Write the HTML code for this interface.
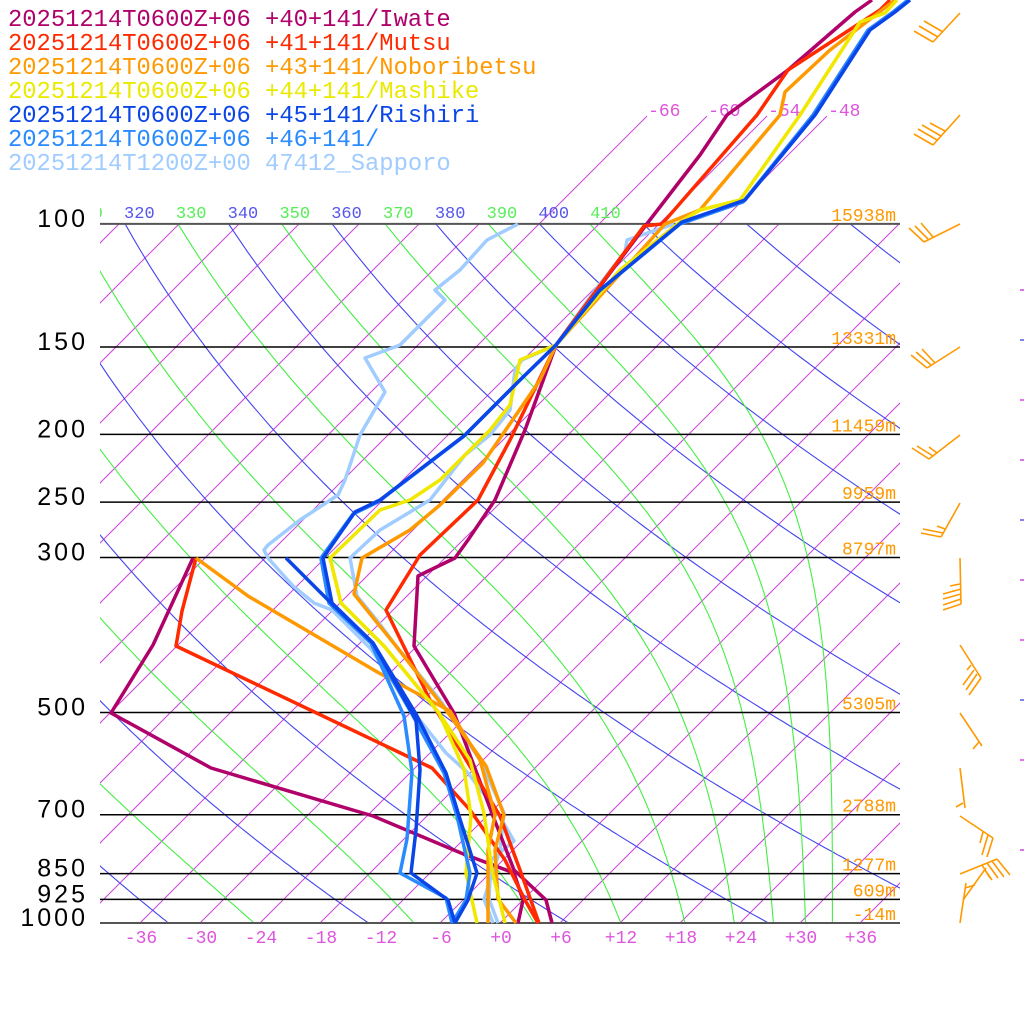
<!DOCTYPE html>
<html><head><meta charset="utf-8"><style>
html,body{margin:0;padding:0;background:#fff;width:1024px;height:1024px;overflow:hidden}
svg{display:block}
text{font-family:"Liberation Mono",monospace}
</style></head><body>
<svg id="s" width="1024" height="1024" viewBox="0 0 1024 1024" xmlns="http://www.w3.org/2000/svg">
<defs><clipPath id="c"><rect x="100" y="224" width="800" height="699"/></clipPath>
<clipPath id="cl"><rect x="100" y="190" width="800" height="40"/></clipPath></defs>
<g id="bg" clip-path="url(#c)"></g>
<g id="ext"></g>
<g id="lab"></g>
<g id="data" fill="none" stroke-linejoin="round" stroke-width="3.5"></g>
<g id="barbs" stroke="#ff9900" stroke-width="1.6" fill="none">
<line x1="960" y1="13" x2="933" y2="42"/><line x1="933" y1="42" x2="914" y2="31"/><line x1="938" y1="37" x2="919" y2="26"/><line x1="943" y1="32" x2="924" y2="21"/>
<line x1="960" y1="115" x2="933" y2="145"/><line x1="933" y1="145" x2="914" y2="134"/><line x1="937" y1="140" x2="918" y2="129"/><line x1="941" y1="136" x2="922" y2="125"/><line x1="945" y1="131" x2="930" y2="123"/>
<line x1="960" y1="224" x2="924" y2="242"/><line x1="924" y1="242" x2="909" y2="228"/><line x1="928" y1="239" x2="915" y2="226"/><line x1="933" y1="237" x2="921" y2="223"/>
<line x1="960" y1="347" x2="927" y2="368"/><line x1="927" y1="368" x2="911" y2="355"/><line x1="931" y1="365" x2="916" y2="352"/><line x1="935" y1="363" x2="922" y2="349"/>
<line x1="960" y1="435" x2="929" y2="459"/><line x1="929" y1="459" x2="912" y2="448"/><line x1="933" y1="456" x2="917" y2="446"/><line x1="937" y1="453" x2="929" y2="447"/>
<line x1="960" y1="503" x2="941" y2="537"/><line x1="941" y1="537" x2="921" y2="533"/><line x1="943" y1="533" x2="923" y2="529"/><line x1="945" y1="529" x2="937" y2="526"/>
<line x1="960" y1="558" x2="961" y2="604"/><line x1="961" y1="604" x2="943" y2="610"/><line x1="961" y1="599" x2="943" y2="605"/><line x1="961" y1="594" x2="943" y2="599"/><line x1="961" y1="589" x2="943" y2="594"/><line x1="960" y1="584" x2="950" y2="586"/>
<line x1="960" y1="645" x2="981" y2="678"/><line x1="981" y1="678" x2="969" y2="695"/><line x1="977" y1="674" x2="966" y2="690"/><line x1="974" y1="670" x2="963" y2="685"/><line x1="971" y1="665" x2="967" y2="670"/>
<line x1="960" y1="713" x2="982" y2="746"/><line x1="979" y1="742" x2="973" y2="749"/>
<line x1="960" y1="768" x2="965" y2="808"/><line x1="963" y1="803" x2="956" y2="807"/>
<line x1="960" y1="816" x2="993" y2="838"/><line x1="993" y1="838" x2="987" y2="857"/><line x1="988" y1="835" x2="982" y2="855"/><line x1="983" y1="832" x2="980" y2="843"/>
<line x1="960" y1="874" x2="997" y2="859"/><line x1="997" y1="859" x2="1010" y2="875"/><line x1="992" y1="861" x2="1004" y2="877"/><line x1="987" y1="863" x2="998" y2="878"/><line x1="982" y1="865" x2="990" y2="878"/>
<line x1="960" y1="923" x2="966" y2="883"/><line x1="965" y1="888" x2="975" y2="885"/><line x1="963" y1="900" x2="986" y2="868"/><line x1="985" y1="870" x2="992" y2="880"/>
</g>
</svg>
<script>
var NS="http://www.w3.org/2000/svg";
function el(par,tag,at,txt){var e=document.createElementNS(NS,tag);for(var k in at)e.setAttribute(k,at[k]);if(txt!=null)e.textContent=txt;document.getElementById(par).appendChild(e);return e;}
function Y(p){return 923-303.6*Math.log(1000/p);}
function X(T,p){return 500+10*T+(923-Y(p));}
for(var T=-120;T<=40;T+=6){var x1=X(T,1000);el("bg","line",{x1:x1,y1:923,x2:x1+699,y2:224,stroke:"#c844d8","stroke-width":1});}
[-66,-60,-54,-48].forEach(function(T){var x1=X(T,100);el("ext","line",{x1:x1,y1:224,x2:x1+108,y2:116,stroke:"#c844d8","stroke-width":1});
el("lab","text",{x:x1+109,y:116,fill:"#dd55dd","font-size":18},String(T));});
var ps=[];for(var p=1000;p>=95;p-=5)ps.push(p);
for(var th=200;th<=500;th+=20){var pts=ps.map(function(p){var t=th*Math.pow(p/1000,0.2857)-273.15;return X(t,p).toFixed(1)+","+Y(p).toFixed(1);});
el("bg","polyline",{points:pts.join(" "),fill:"none",stroke:"#4444ee","stroke-width":1.1});}
function thetae(t,p){var TK=t+273.15;var es=6.112*Math.exp(17.67*t/(t+243.5));var r=622*es/(p-es);
return TK*Math.pow(1000/p,0.2854*(1-0.00028*r))*Math.exp((3.376/TK-0.00254)*r*(1+0.00081*r));}
for(var te=250;te<=410;te+=20){var pts=[];ps.forEach(function(p){var lo=-160,hi=60;for(var i=0;i<50;i++){var m=(lo+hi)/2;if(thetae(m,p)>te)hi=m;else lo=m;}
pts.push(X(lo,p).toFixed(1)+","+Y(p).toFixed(1));});
el("bg","polyline",{points:pts.join(" "),fill:"none",stroke:"#44ee44","stroke-width":1.1});}
for(var th=310;th<=410;th+=10){var blue=(th%20==0);var x=X(th*Math.pow(0.1,0.2857)-273.15,100);
var t=el("lab","text",{x:x-1,y:218,fill:blue?"#5555ee":"#55ee55","font-size":17},String(th));t.setAttribute("clip-path","url(#cl)");}
[[100,15938],[150,13331],[200,11459],[250,9959],[300,8797],[500,5305],[700,2788],[850,1277],[925,609],[1000,-14]].forEach(function(a){
var y=Y(a[0]);var edge=(a[0]==100||a[0]==1000);
el("lab","line",{x1:100,y1:y,x2:900,y2:y,stroke:edge?"#555":"#000","stroke-width":edge?2:1.5});
el("lab","text",{x:88,y:y+3,"text-anchor":"end",fill:"#000","font-size":25,"letter-spacing":3,style:"font-family:'Liberation Sans',sans-serif"},String(a[0]));
el("lab","text",{x:896,y:y-3,"text-anchor":"end",fill:"#ff9900","font-size":18},a[1]+"m");});
for(var T=-36;T<=36;T+=6){el("lab","text",{x:X(T,1000)+1,y:943,"text-anchor":"middle",fill:"#dd55dd","font-size":18},(T>=0?"+":"")+T);}
var leg=[["20251214T0600Z+06 +40+141/Iwate","#b0006a"],["20251214T0600Z+06 +41+141/Mutsu","#ff2a00"],["20251214T0600Z+06 +43+141/Noboribetsu","#ff9900"],
["20251214T0600Z+06 +44+141/Mashike","#eaea00"],["20251214T0600Z+06 +45+141/Rishiri","#0a45e8"],["20251214T0600Z+06 +46+141/","#2a8aff"],["20251214T1200Z+00 47412_Sapporo","#a0ccff"]];
leg.forEach(function(l,i){el("lab","text",{x:8,y:26+24*i,fill:l[1],"font-size":23.8},l[0]);});
var S=[
["#a0ccff","518,224 487,240 460,270 435,290 445,300 400,345 365,358 385,392 360,435 345,480 338,495 300,520 268,545 264,550 268,558 293,586 314,603 332,610 371,649 414,713 446,753 468,773 496,810 514,841 491,860 489,899 498,923"],
["#a0ccff","674,224 627,240 625,252 593,293 556,345 522,360 515,370 510,410 490,435 465,455 430,500 380,530 350,558 357,596 379,623 396,646 440,700 480,760 504,813 500,850 484,899 493,923"],
["#b0006a","193,558 153,645 111,713 211,768 373,816 461,853 514,873 523,900 518,923"],
["#b0006a","872,0 855,12 788,70 727,115 700,155 646,225 556,345 525,430 495,500 468,540 455,558 418,576 414,646 454,713 493,816 514,870 546,900 552,923"],
["#ff2a00","196,558 182,611 176,646 411,758 432,768 470,810 505,860 525,900 538,923"],
["#ff2a00","890,0 880,10 788,70 757,115 662,224 644,226 556,345 510,440 478,500 420,555 386,610 430,700 500,816 520,870 539,923"],
["#ff9900","196,558 248,596 379,673 450,711 480,760 495,815 488,850 488,873 488,923"],
["#ff9900","895,0 830,50 785,92 780,115 742,160 700,210 665,224 556,345 540,380 483,463 440,505 410,530 362,558 354,594 396,646 446,710 486,766 504,815 495,850 498,899 516,923"],
["#f0e800","330,558 341,603 384,646 439,713 470,760 484,813 492,870 505,923"],
["#f0e800","897,0 885,13 860,22 800,115 740,200 700,210 680,222 620,270 556,345 520,360 510,405 490,430 465,455 440,480 410,500 380,510 330,558 341,603 384,646 439,713 464,769 471,816 466,873 477,923"],
["#2a8aff","321,558 329,603 371,643 404,716 412,772 407,839 400,873 446,898 452,923"],
["#2a8aff","908,0 893,12 868,30 813,115 743,202 680,224 598,292 556,345 518,382 463,437 378,502 353,514 321,558 329,603 371,643 412,714 444,773 457,816 470,873 466,900 452,923"],
["#0a45e8","286,558 329,601 373,643 416,720 420,770 416,830 411,873 448,900 455,923"],
["#0a45e8","910,0 895,12 870,30 815,115 745,200 682,222 600,290 556,345 520,380 465,435 380,500 355,512 323,558 332,603 373,643 416,714 446,773 459,816 477,873 468,900 455,923"]
];
S.forEach(function(s){el("data","polyline",{points:s[1],stroke:s[0]});});
[290,340,400,460,520,580,640,700,760,850].forEach(function(y,i){el("lab","line",{x1:1020,y1:y,x2:1024,y2:y,stroke:i%3==1?"#5555ee":"#cc44dd","stroke-width":1.5});});
</script>
</body></html>
